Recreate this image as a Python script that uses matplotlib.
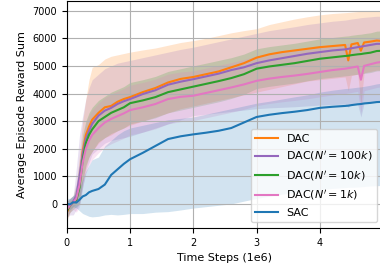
import numpy as np
import matplotlib
matplotlib.use("Agg")
import matplotlib.pyplot as plt

# ── data ──────────────────────────────────────────────────
steps = [0, 0.05, 0.1, 0.15, 0.2, 0.25, 0.3, 0.35, 0.4, 0.5, 0.6, 0.7, 0.8, 0.9,
         1.0, 1.2, 1.4, 1.6, 1.8, 2.0, 2.2, 2.4, 2.6, 2.8, 3.0, 3.2, 3.4, 3.6,
         3.8, 4.0, 4.2, 4.4, 4.45, 4.5, 4.6, 4.65, 4.7, 4.8, 4.9, 5.0]

dac_mean = [-300, -50, 50, 150, 700, 1900, 2500, 2800, 3050, 3300, 3500, 3550, 3700, 3800,
            3870, 4050, 4200, 4400, 4530, 4600, 4700, 4800, 4950, 5100, 5300, 5420, 5500, 5560,
            5620, 5680, 5720, 5760, 5200, 5780, 5830, 5550, 5850, 5880, 5920, 5900]
dac_hi = [0, 100, 200, 600, 1800, 3000, 3800, 4500, 4950, 5050, 5250, 5350, 5400, 5450,
          5500, 5580, 5650, 5750, 5850, 5920, 6000, 6100, 6200, 6280, 6350, 6500, 6600, 6700,
          6780, 6850, 6900, 6930, 6940, 6950, 6970, 6980, 6980, 7000, 7000, 7000]
dac_lo = [-600, -300, -100, 0, 200, 800, 1300, 1700, 1900, 2200, 2400, 2500, 2650, 2750,
          2850, 3000, 3150, 3300, 3450, 3550, 3650, 3750, 3850, 3950, 4050, 4150, 4250, 4350,
          4450, 4500, 4550, 4600, 4100, 4650, 4700, 3600, 4750, 4800, 4850, 4850]

n100_mean = [-200, -50, 80, 300, 1000, 1800, 2350, 2650, 2900, 3200, 3380, 3480, 3620, 3720,
             3800, 3980, 4120, 4320, 4430, 4520, 4620, 4720, 4850, 4950, 5100, 5200, 5280, 5360,
             5440, 5500, 5560, 5600, 5620, 5640, 5680, 5700, 5720, 5760, 5800, 5800]
n100_hi = [100, 200, 300, 1300, 2500, 3200, 3800, 4200, 4500, 4700, 4900, 5000, 5100, 5150,
           5200, 5300, 5400, 5500, 5600, 5680, 5780, 5880, 5980, 6080, 6180, 6280, 6350, 6420,
           6500, 6560, 6620, 6660, 6680, 6700, 6730, 6750, 6760, 6780, 6800, 6800]
n100_lo = [-500, -400, -400, -200, 0, 600, 1200, 1500, 1800, 2000, 2200, 2300, 2350, 2400,
           2450, 2600, 2750, 2900, 3050, 3200, 3250, 3300, 3350, 3400, 3450, 3480, 3500, 3520,
           3550, 3580, 3600, 3620, 3500, 3620, 3600, 3150, 3650, 3680, 3700, 3720]

n10_mean = [-250, -50, 50, 150, 600, 1600, 2200, 2500, 2700, 3000, 3150, 3300, 3400, 3500,
            3650, 3750, 3870, 4050, 4150, 4250, 4350, 4450, 4560, 4700, 4900, 4980, 5040, 5100,
            5180, 5260, 5310, 5360, 5370, 5390, 5420, 5430, 5450, 5480, 5540, 5550]
n10_hi = [100, 200, 300, 700, 1500, 2500, 3000, 3300, 3500, 3750, 3900, 4050, 4150, 4250,
          4400, 4500, 4620, 4800, 4900, 5000, 5100, 5200, 5300, 5430, 5620, 5700, 5760, 5820,
          5900, 5980, 6030, 6080, 6090, 6110, 6140, 6150, 6170, 6200, 6260, 6270]
n10_lo = [-500, -300, -200, -100, 0, 800, 1400, 1700, 1900, 2250, 2400, 2550, 2650, 2750,
          2900, 3000, 3120, 3300, 3400, 3500, 3600, 3700, 3820, 3970, 4180, 4260, 4320, 4380,
          4460, 4540, 4590, 4640, 4650, 4670, 4700, 4710, 4730, 4760, 4820, 4830]

n1_mean = [-200, -50, 50, 200, 700, 1500, 2000, 2300, 2500, 2750, 2950, 3080, 3180, 3280,
           3400, 3500, 3620, 3800, 3880, 3920, 4020, 4120, 4220, 4330, 4460, 4540, 4600, 4650,
           4710, 4780, 4850, 4900, 4920, 4940, 4980, 4500, 5000, 5060, 5120, 5150]
n1_hi = [100, 200, 300, 800, 1600, 2400, 2900, 3200, 3400, 3650, 3850, 3980, 4080, 4180,
         4300, 4400, 4520, 4700, 4780, 4820, 4920, 5020, 5120, 5230, 5360, 5440, 5500, 5550,
         5610, 5680, 5750, 5800, 5820, 5840, 5880, 5400, 5900, 5960, 6020, 6050]
n1_lo = [-500, -300, -200, -300, -100, 600, 1100, 1400, 1600, 1850, 2050, 2180, 2280, 2380,
         2500, 2600, 2720, 2900, 2980, 3020, 3120, 3220, 3320, 3430, 3560, 3640, 3700, 3750,
         3810, 3880, 3950, 4000, 4020, 4040, 4080, 3300, 4100, 4160, 4220, 4250]

sac_mean = [0, -20, 60, 50, 150, 270, 320, 420, 470, 540, 700, 1050, 1250, 1450,
            1620, 1850, 2100, 2350, 2450, 2520, 2580, 2650, 2750, 2950, 3150, 3230, 3290, 3340,
            3400, 3480, 3520, 3550, 3560, 3580, 3610, 3620, 3640, 3660, 3690, 3700]
sac_hi = [200, 200, 300, 400, 600, 900, 1200, 1400, 1600, 1700, 2100, 2300, 2500, 2650,
          2750, 2850, 2950, 3050, 3100, 3150, 3250, 3350, 3450, 3550, 3650, 3720, 3800, 3880,
          3950, 4050, 4120, 4180, 4190, 4200, 4230, 4240, 4260, 4300, 4350, 4380]
sac_lo = [-300, -200, -100, -150, -250, -350, -400, -450, -470, -450, -400, -380, -400, -380,
          -350, -350, -300, -280, -220, -150, -100, -50, 0, 100, 200, 280, 350, 420,
          480, 520, 560, 590, 600, 600, 610, 620, 630, 650, 660, 670]

labels = ["DAC", r"DAC($N'=100k$)", r"DAC($N'=10k$)", r"DAC($N'=1k$)", "SAC"]
colors = ["tab:orange", "tab:purple", "tab:green", "tab:pink", "tab:blue"]
means = [dac_mean, n100_mean, n10_mean, n1_mean, sac_mean]
his = [dac_hi, n100_hi, n10_hi, n1_hi, sac_hi]
los = [dac_lo, n100_lo, n10_lo, n1_lo, sac_lo]

# ── plot ───────────────────────────────────────────────────
fig = plt.figure(figsize=(3.8, 2.65), dpi=100)
ax = fig.add_axes([0.176, 0.14, 0.832, 0.858])

x = np.array(steps)
for m, hi, lo, c, lab in zip(means, his, los, colors, labels):
    ax.fill_between(x, lo, hi, color=c, alpha=0.2, linewidth=0)
    ax.plot(x, m, color=c, linewidth=1.5, label=lab)

ax.set_xlim(0, 5)
ax.set_ylim(-870, 7370)
ax.set_xticks([0, 1, 2, 3, 4])
ax.set_yticks(range(0, 8000, 1000))
ax.tick_params(labelsize=7)
ax.set_xlabel("Time Steps (1e6)", fontsize=8)
ax.set_ylabel("Average Episode Reward Sum", fontsize=8)
ax.grid(True)
ax.legend(loc="lower right", fontsize=8)

plt.savefig("out.png", dpi=100)
